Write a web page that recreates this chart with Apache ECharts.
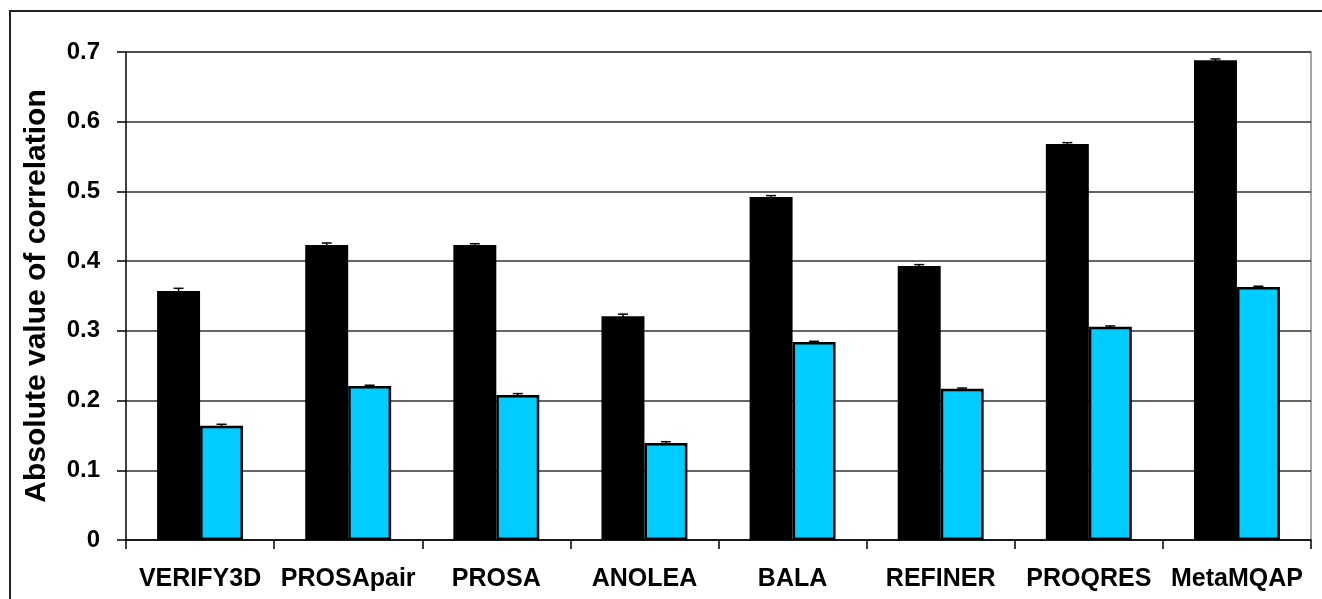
<!DOCTYPE html>
<html>
<head>
<meta charset="utf-8">
<script src="https://cdn.jsdelivr.net/npm/echarts@6/dist/echarts.min.js"></script>
<style>
  html, body { margin: 0; padding: 0; background: #fff; }
  #chart { width: 1322px; height: 599px; }
</style>
</head>
<body>
<div id="chart"></div>
<script>
// programs on the x axis
var methods = ['VERIFY3D', 'PROSApair', 'PROSA', 'ANOLEA', 'BALA', 'REFINER', 'PROQRES', 'MetaMQAP'];
// black bars and cyan bars
var blackVals = [0.357, 0.423, 0.423, 0.321, 0.492, 0.393, 0.568, 0.688];
var cyanVals  = [0.164, 0.221, 0.208, 0.139, 0.284, 0.217, 0.306, 0.363];
// small error bars (half-length)
var blackErr = [0.004, 0.003, 0.002, 0.003, 0.002, 0.002, 0.002, 0.002];
var cyanErr  = [0.002, 0.001, 0.002, 0.002, 0.001, 0.001, 0.001, 0.001];
var yTicks = [0, 0.1, 0.2, 0.3, 0.4, 0.5, 0.6, 0.7];

var dom = document.getElementById('chart');
var myChart = echarts.init(dom);
var font = 'Liberation Sans, Arial, sans-serif';

function errData(vals, errs) {
    var out = [];
    for (var i = 0; i < vals.length; i++) {
        out.push([i, vals[i] - errs[i], vals[i] + errs[i]]);
    }
    return out;
}

// draws an error bar over the bar; off = -1 left bar, +1 right bar
function errRender(off) {
    return function (params, api) {
        var lo = api.coord([api.value(0), api.value(1)]);
        var hi = api.coord([api.value(0), api.value(2)]);
        var bw = api.size([1, 0])[0] * 0.29;
        var x = lo[0] + off * bw / 2;
        return {
            type: 'group',
            children: [
                { type: 'line', shape: { x1: x, y1: hi[1], x2: x, y2: lo[1] }, style: { stroke: '#000', lineWidth: 1.5 } },
                { type: 'line', shape: { x1: x - 5, y1: hi[1], x2: x + 5, y2: hi[1] }, style: { stroke: '#000', lineWidth: 1.5 } }
            ]
        };
    };
}

var option = {
    backgroundColor: '#fff',
    animation: false,
    graphic: [
        { type: 'rect', shape: { x: 10, y: 11, width: 1330, height: 620 }, style: { fill: 'none', stroke: '#222', lineWidth: 2 }, z: -1 },
        // plot-area frame (top and right in grey)
        { type: 'polyline', shape: { points: [[126, 52], [1311, 52], [1311, 540]] }, style: { fill: 'none', stroke: '#888', lineWidth: 1.5 } }
    ],
    grid: { left: 126, top: 52, right: 11, bottom: 59 },
    xAxis: {
        type: 'category',
        data: methods,
        axisLine: { lineStyle: { color: '#000', width: 1.5 } },
        axisTick: { show: true, length: 9, lineStyle: { color: '#000', width: 1.5 } },
        axisLabel: { interval: 0, color: '#000', fontFamily: font, fontWeight: 'bold', fontSize: 25, margin: 27 }
    },
    yAxis: {
        type: 'value',
        min: 0, max: 0.7, interval: 0.1,
        name: 'Absolute value of correlation',
        nameLocation: 'middle',
        nameGap: 74,
        nameTextStyle: { color: '#000', fontFamily: font, fontWeight: 'bold', fontSize: 30 },
        axisLine: { show: true, lineStyle: { color: '#000', width: 1.5 } },
        axisTick: { show: true, length: 9, lineStyle: { color: '#000', width: 1.5 } },
        axisLabel: {
            color: '#000', fontFamily: font, fontWeight: 'bold', fontSize: 24, margin: 26,
            formatter: function (v) { return yTicks.indexOf(Math.round(v * 10) / 10) >= 0 ? String(Math.round(v * 10) / 10) : ''; }
        },
        splitLine: { lineStyle: { color: '#333', width: 1.5 } }
    },
    series: [
        {
            type: 'bar',
            data: blackVals,
            barWidth: '29%',
            barGap: '0%',
            itemStyle: { color: '#000', borderColor: '#000', borderWidth: 1.5 }
        },
        {
            type: 'bar',
            data: cyanVals,
            barWidth: '29%',
            barGap: '0%',
            itemStyle: { color: '#00CCFF', borderColor: '#000', borderWidth: 2.5 }
        },
        {
            type: 'custom',
            renderItem: errRender(-1),
            data: errData(blackVals, blackErr),
            z: 10
        },
        {
            type: 'custom',
            renderItem: errRender(1),
            data: errData(cyanVals, cyanErr),
            z: 10
        }
    ]
};

if (option && typeof option === "object") {
    myChart.setOption(option, true);
}
</script>
</body>
</html>
